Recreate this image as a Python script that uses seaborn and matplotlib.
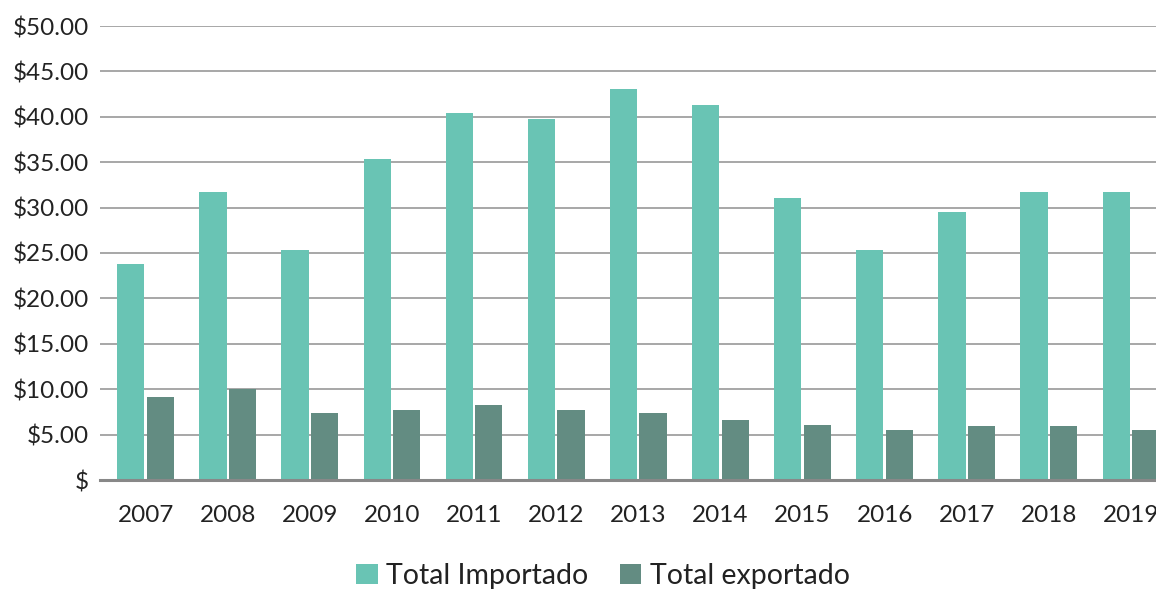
import matplotlib
matplotlib.use("Agg")
import matplotlib.pyplot as plt
import seaborn as sns
import pandas as pd
from matplotlib.ticker import FixedLocator, FuncFormatter
from matplotlib.patches import Patch

years = ["2007", "2008", "2009", "2010", "2011", "2012", "2013",
         "2014", "2015", "2016", "2017", "2018", "2019"]
importado = [23.8, 31.7, 25.3, 35.4, 40.4, 39.8, 43.1, 41.3, 31.1, 25.3, 29.5, 31.7, 31.7]
exportado = [9.1, 10.0, 7.4, 7.7, 8.3, 7.7, 7.4, 6.6, 6.1, 5.5, 6.0, 6.0, 5.5]
series = ["Total Importado", "Total exportado"]
colors = ["#69C4B4", "#638C82"]

df = pd.DataFrame({
    "year": years * 2,
    "value": importado + exportado,
    "series": [series[0]] * len(years) + [series[1]] * len(years),
})

sns.set_theme(style="white")
plt.rcParams["font.family"] = ["Lato", "DejaVu Sans"]

fig = plt.figure(figsize=(11.56, 5.92), dpi=100)
ax = fig.add_axes([100 / 1156, 1 - 480 / 592, 1072 / 1156, (480 - 26) / 592])

sns.barplot(data=df, x="year", y="value", hue="series", palette=colors,
            width=0.72, gap=0.08, ax=ax, saturation=1, legend=False,
            linewidth=0, edgecolor="none")

ax.set_xlim(-0.555, 12.5)
ax.set_ylim(0, 50)
ax.yaxis.set_major_locator(FixedLocator(range(0, 51, 5)))
ax.yaxis.set_major_formatter(FuncFormatter(lambda v, p: "$" if v == 0 else f"${v:.2f}"))
ax.grid(axis="y", color="#A0A0A0", linewidth=1.3)
ax.set_axisbelow(True)
for s in ["top", "right", "left"]:
    ax.spines[s].set_visible(False)
ax.spines["bottom"].set_color("#888888")
ax.spines["bottom"].set_linewidth(2.2)
ax.tick_params(axis="both", length=0, labelsize=17.5, colors="#222222")
ax.tick_params(axis="x", pad=18)
ax.tick_params(axis="y", pad=8)
ax.set_xlabel("")
ax.set_ylabel("")

handles = [Patch(facecolor=c, edgecolor="none") for c in colors]
fig.legend(handles, series, loc="center", bbox_to_anchor=(603 / 1156, 1 - 576 / 592),
           ncol=2, frameon=False, fontsize=20.5, handlelength=0.75, handleheight=0.75,
           handletextpad=0.3, columnspacing=1.1, labelcolor="#222222")

fig.savefig("out.png", dpi=100)
